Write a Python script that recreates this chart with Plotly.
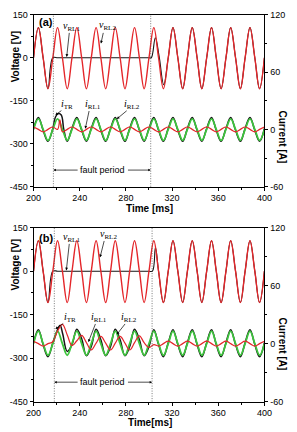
import plotly.graph_objects as go

# ---------------- data ----------------
# time grid [ms] (quarter-period samples of the 60 Hz waveform)
T = [200.0, 204.2, 208.3, 212.5, 216.7, 220.8, 225.0, 229.2,
     233.3, 237.5, 241.7, 245.8, 250.0, 254.2, 258.3, 262.5,
     266.7, 270.8, 275.0, 279.2, 283.3, 287.5, 291.7, 295.8,
     300.0, 304.2, 308.3, 312.5, 316.7, 320.8, 325.0, 329.2,
     333.3, 337.5, 341.7, 345.8, 350.0, 354.2, 358.3, 362.5,
     366.7, 370.8, 375.0, 379.2, 383.3, 387.5, 391.7, 395.8,
     400.0]

# v_RL2 (red) - same in both panels
V_RL2 = [0, 105, 0, -108, 0, 105, 0, -108,
         0, 105, 0, -108, 0, 105, 0, -108,
         0, 105, 0, -108, 0, 105, 0, -108,
         0, 105, 0, -108, 0, 105, 0, -108,
         0, 105, 0, -108, 0, 105, 0, -108,
         0, 105, 0, -108, 0, 105, 0, -108,
         0]

# v_RL1 (black), panel (a)
T_V1A = [200.0, 204.2, 208.3, 212.5, 216.7, 220.8, 225.0, 229.2,
         233.3, 237.5, 241.7, 245.8, 250.0, 254.2, 258.3, 262.5,
         266.7, 270.8, 275.0, 279.2, 283.3, 287.5, 291.7, 295.8,
         300.0, 302.0, 305.5, 308.8, 312.8, 316.7, 320.8, 325.0, 329.2,
         333.3, 337.5, 341.7, 345.8, 350.0, 354.2, 358.3, 362.5,
         366.7, 370.8, 375.0, 379.2, 383.3, 387.5, 391.7, 395.8,
         400.0]
V_RL1_A = [0, 105, 0, -108, 0, 0, 0, 0,
           0, 0, 0, 0, 0, 0, 0, 0,
           0, 0, 0, 0, 0, 0, 0, 0,
           0, 0, 70, 5, -94, 0, 105, 0, -108,
           0, 105, 0, -108, 0, 105, 0, -108,
           0, 105, 0, -108, 0, 105, 0, -108,
           0]

# v_RL1 (black), panel (b)
T_V1B = [200.0, 204.2, 208.3, 212.5, 216.7, 220.8, 225.0, 229.2,
         233.3, 237.5, 241.7, 245.8, 250.0, 254.2, 258.3, 262.5,
         266.7, 270.8, 275.0, 279.2, 283.3, 287.5, 291.7, 295.8,
         300.0, 303.0, 305.6, 308.3, 312.5, 316.7, 320.8, 325.0, 329.2,
         333.3, 337.5, 341.7, 345.8, 350.0, 354.2, 358.3, 362.5,
         366.7, 370.8, 375.0, 379.2, 383.3, 387.5, 391.7, 395.8,
         400.0]
V_RL1_B = [0, 105, 0, -108, 0, 0, 0, 0,
           0, 0, 0, 0, 0, 0, 0, 0,
           0, 0, 0, 0, 0, 0, 0, 0,
           0, 0, 82, 0, -108, 0, 105, 0, -108,
           0, 105, 0, -108, 0, 105, 0, -108,
           0, 105, 0, -108, 0, 105, 0, -108,
           0]

# ---- currents, panel (a) ----
I_RL1_A = [0, 11, 0, -11.5, 0, 11, 0, -11.5,
           0, 11, 0, -11.5, 0, 11, 0, -11.5,
           0, 11, 0, -11.5, 0, 11, 0, -11.5,
           0, 11, 0, -11.5, 0, 11, 0, -11.5,
           0, 11, 0, -11.5, 0, 11, 0, -11.5,
           0, 11, 0, -11.5, 0, 11, 0, -11.5,
           0]

T_TR_A = [200.0, 204.2, 208.3, 212.5, 216.7, 219.0, 221.5, 224.0, 226.2, 229.2,
          233.3, 237.5, 241.7, 245.8, 250.0, 254.2, 258.3, 262.5,
          266.7, 270.8, 275.0, 279.2, 283.3, 287.5, 291.7, 295.8,
          300.0, 304.2, 308.3, 312.5, 316.7, 320.8, 325.0, 329.2,
          333.3, 337.5, 341.7, 345.8, 350.0, 354.2, 358.3, 362.5,
          366.7, 370.8, 375.0, 379.2, 383.3, 387.5, 391.7, 395.8,
          400.0]
I_TR_A = [1, 12.5, -1, -12.5, 1, 13, 16.5, 15, 0, -12.5,
          1, 12.5, -1, -12.5, 1, 12.5, -1, -12.5,
          1, 12.5, -1, -12.5, 1, 12.5, -1, -12.5,
          1, 12.5, -1, -12.5, 1, 12.5, -1, -12.5,
          1, 12.5, -1, -12.5, 1, 12.5, -1, -12.5,
          1, 12.5, -1, -12.5, 1, 12.5, -1, -12.5,
          1]

T_RL2_A = [200.0, 204.2, 208.3, 212.5, 216.7, 220.8, 222.8, 225.0, 229.2,
           233.3, 237.5, 241.7, 245.8, 250.0, 254.2, 258.3, 262.5,
           266.7, 270.8, 275.0, 279.2, 283.3, 287.5, 291.7, 295.8,
           300.0, 304.2, 308.3, 312.5, 316.7, 320.8, 325.0, 329.2,
           333.3, 337.5, 341.7, 345.8, 350.0, 354.2, 358.3, 362.5,
           366.7, 370.8, 375.0, 379.2, 383.3, 387.5, 391.7, 395.8,
           400.0]
I_RL2_A = [2.5, 0, -2.5, 0, 2.5, 0, 10, -2.5, 0,
           2.5, 0, -2.5, 0, 2.5, 0, -2.5, 0,
           2.5, 0, -2.5, 0, 2.5, 0, -2.5, 0,
           2.5, 0, -2.5, 0, 2.5, 0, -2.5, 0,
           2.5, 0, -2.5, 0, 2.5, 0, -2.5, 0,
           2.5, 0, -2.5, 0, 2.5, 0, -2.5, 0,
           2.5]

# ---- currents, panel (b) ----
I_RL1_B = [0, 13, 0, -12, 0, 13, 0, -12,
           0, 13, 0, -12, 0, 13, 0, -12,
           0, 13, 0, -12, 0, 13, 0, -12,
           0, 13, 0, -12, 0, 13, 0, -12,
           0, 13, 0, -12, 0, 13, 0, -12,
           0, 13, 0, -12, 0, 13, 0, -12,
           0]

I_RL2_B = [2.5, 0, -2.5, 0, 2, 13, 20, 9,
           -2, 3, 8.5, 1, -6.5, 0.5, 7.5, 0.5,
           -6.5, 0.5, 7.5, 0.5, -6.5, 1, 8, 1,
           -4, -1, -2.5, 0, 2.5, 0, -2.5, 0,
           2.5, 0, -2.5, 0, 2.5, 0, -2.5, 0,
           2.5, 0, -2.5, 0, 2.5, 0, -2.5, 0,
           2.5]

T_TR_B = [200.0, 204.2, 208.3, 212.5, 216.7, 219.0, 221.0, 223.0, 225.3, 229.2,
          233.3, 237.5, 241.7, 245.8, 250.0, 254.2, 258.3, 262.5,
          266.7, 270.8, 275.0, 279.2, 283.3, 287.5, 291.7, 295.8,
          300.0, 304.2, 308.3, 312.5, 316.7, 320.8, 325.0, 329.2,
          333.3, 337.5, 341.7, 345.8, 350.0, 354.2, 358.3, 362.5,
          366.7, 370.8, 375.0, 379.2, 383.3, 387.5, 391.7, 395.8,
          400.0]
I_TR_B = [1, 14.5, -1, -13.5, 1, 9, 15, 19, 10, -8,
          -1, 15, 5, -12.5, -3, 15, 4, -12.5,
          -3, 15, 4, -12.5, -3, 15, 4, -12.5,
          -3, 14.5, -1, -13.5, 1, 14.5, -1, -13.5,
          1, 14.5, -1, -13.5, 1, 14.5, -1, -13.5,
          1, 14.5, -1, -13.5, 1, 14.5, -1, -13.5,
          1]

# axis ticks
V_TICKS = [-450, -300, -150, 0, 150]
V_LABELS = ['-450', '-300', '-150', '0', '150']
V_MINOR = [-375, -225, -75, 75]
I_TICKS = [-60, 0, 60, 120]
I_LABELS = ['-60', '0', '60', '120']
I_MINOR = [-30, 30, 90]
X_TICKS = [200, 240, 280, 320, 360, 400]
X_LABELS = ['200', '240', '280', '320', '360', '400']
X_MINOR = [220, 260, 300, 340, 380]

# ---------------- figure ----------------
W, H = 297, 432
RED = '#e4262a'
GREEN = '#3dc43d'
BLACK = '#151515'
SANS = 'Arial, Liberation Sans, sans-serif'
SERIF = 'Liberation Serif, Times New Roman, serif'

fig = go.Figure()


def add(x, y, color, xa, ya, w):
    fig.add_trace(go.Scatter(x=x, y=y, mode='lines', xaxis=xa, yaxis=ya,
                             line=dict(color=color, width=w, shape='spline', smoothing=1.1),
                             hoverinfo='skip', showlegend=False))


# panel (a)
add(T_V1A, V_RL1_A, BLACK, 'x', 'y', 1.1)
add(T, V_RL2, RED, 'x', 'y', 1.4)
add(T_TR_A, I_TR_A, BLACK, 'x', 'y2', 1.5)
add(T, I_RL1_A, GREEN, 'x', 'y2', 1.8)
add(T_RL2_A, I_RL2_A, RED, 'x', 'y2', 1.2)
# panel (b)
add(T_V1B, V_RL1_B, BLACK, 'x2', 'y3', 1.1)
add(T, V_RL2, RED, 'x2', 'y3', 1.4)
add(T_TR_B, I_TR_B, BLACK, 'x2', 'y4', 1.5)
add(T, I_RL1_B, GREEN, 'x2', 'y4', 1.8)
add(T, I_RL2_B, RED, 'x2', 'y4', 1.2)

xdom = [27 / W, 271 / W]
ydom_a = [1 - 186 / H, 1 - 10 / H]
ydom_b = [1 - 406 / H, 1 - 228 / H]

common = dict(showline=True, linecolor='black', linewidth=1, ticks='outside', ticklen=3,
              tickwidth=1, tickcolor='black', showgrid=False, zeroline=False,
              tickfont=dict(family=SANS, size=9, color='black'))


def xax(anchor):
    return dict(common, domain=xdom, anchor=anchor, range=[200, 400], mirror=True,
                tickmode='array', tickvals=X_TICKS, ticktext=X_LABELS,
                minor=dict(tickmode='array', tickvals=X_MINOR, ticks='outside', ticklen=2,
                           tickcolor='black'))


def vax(dom, anchor):
    return dict(common, domain=dom, anchor=anchor, range=[-450, 150],
                tickmode='array', tickvals=V_TICKS, ticktext=V_LABELS,
                minor=dict(tickmode='array', tickvals=V_MINOR, ticks='outside', ticklen=2,
                           tickcolor='black'))


def iax(over, anchor):
    return dict(common, overlaying=over, anchor=anchor, side='right', range=[-60, 120],
                tickmode='array', tickvals=I_TICKS, ticktext=I_LABELS,
                minor=dict(tickmode='array', tickvals=I_MINOR, ticks='outside', ticklen=2,
                           tickcolor='black'))


fig.update_layout(
    width=W, height=H, autosize=False,
    margin=dict(l=0, r=0, t=0, b=0),
    paper_bgcolor='white', plot_bgcolor='white',
    showlegend=False,
    xaxis=xax('y'), yaxis=vax(ydom_a, 'x'), yaxis2=iax('y', 'x'),
    xaxis2=xax('y3'), yaxis3=vax(ydom_b, 'x2'), yaxis4=iax('y3', 'x2'),
)

ann = []
shapes = []


def text(x, y, s, xr, yr, size=10, family=SERIF):
    ann.append(dict(x=x, y=y, xref=xr, yref=yr, text=s, showarrow=False,
                    xanchor='center', yanchor='middle',
                    font=dict(family=family, size=size, color='black')))


def arrow(x0, y0, x1, y1, xr, yr, size=0.8):
    ann.append(dict(x=x1, y=y1, ax=x0, ay=y0, xref=xr, yref=yr, axref=xr, ayref=yr,
                    text='', showarrow=True, arrowhead=2, arrowsize=size, arrowwidth=0.7,
                    arrowcolor='black'))


def vline(x, xr, yr):
    shapes.append(dict(type='line', x0=x, x1=x, y0=0, y1=1, xref=xr, yref=yr + ' domain',
                       line=dict(color='#555', width=0.8, dash='1px,1.5px')))


# panel (a) annotations
text(210.7, 126, '<b>(a)</b>', 'x', 'y', 11, SANS)
text(232.8, 109, '<i>v</i><sub>RL1</sub>', 'x', 'y')
arrow(231.1, 92, 228.7, 3, 'x', 'y')
text(263.9, 112.5, '<i>v</i><sub>RL2</sub>', 'x', 'y')
arrow(260.7, 92, 258.4, 50, 'x', 'y')
text(228.7, -163.7, '<i>i</i><sub>TR</sub>', 'x', 'y')
arrow(225.4, -180.7, 218.9, -200, 'x', 'y')
text(251.6, -163.7, '<i>i</i><sub>RL1</sub>', 'x', 'y')
arrow(248.4, -180.7, 244.8, -248, 'x', 'y')
text(285.2, -163.7, '<i>i</i><sub>RL2</sub>', 'x', 'y')
arrow(282.0, -180.7, 272.1, -213.8, 'x', 'y')
text(259.8, -392, 'fault period', 'x', 'y', 9, SANS)
arrow(239.5, -392, 217.2, -392, 'x', 'y', 0.7)
arrow(280.5, -392, 301.5, -392, 'x', 'y', 0.7)
vline(217.2, 'x', 'y')
vline(301.5, 'x', 'y')

# panel (b) annotations
text(210.7, 116, '<b>(b)</b>', 'x2', 'y3', 11, SANS)
text(232.8, 116, '<i>v</i><sub>RL1</sub>', 'x2', 'y3')
arrow(231.1, 99.4, 228.4, 2.7, 'x2', 'y3')
text(264.8, 126, '<i>v</i><sub>RL2</sub>', 'x2', 'y3')
arrow(261.5, 109.5, 257.6, 47.8, 'x2', 'y3')
text(232.0, -160, '<i>i</i><sub>TR</sub>', 'x2', 'y3')
arrow(227.0, -177, 218.9, -199.6, 'x2', 'y3')
text(256.6, -160, '<i>i</i><sub>RL1</sub>', 'x2', 'y3')
arrow(254.1, -177, 247.5, -244.4, 'x2', 'y3')
text(282.8, -160, '<i>i</i><sub>RL2</sub>', 'x2', 'y3')
arrow(280.3, -177, 272.1, -218.5, 'x2', 'y3')
text(259.8, -383, 'fault period', 'x2', 'y3', 9, SANS)
arrow(239.5, -383, 218.0, -383, 'x2', 'y3', 0.7)
arrow(280.5, -383, 302.7, -383, 'x2', 'y3', 0.7)
vline(218.0, 'x2', 'y3')
vline(302.7, 'x2', 'y3')


# axis titles
def title(xp, yp, s, angle):
    ann.append(dict(x=xp / W, y=1 - yp / H, xref='paper', yref='paper', text='<b>' + s + '</b>',
                    showarrow=False, textangle=angle, xanchor='center', yanchor='middle',
                    font=dict(family=SANS, size=10, color='black')))


title(8, 53, 'Voltage [V]', -90)
title(290, 135, 'Current [A]', 90)
title(150, 208, 'Time [ms]', 0)
title(8, 266, 'Voltage [V]', -90)
title(290, 347, 'Current [A]', 90)
title(150, 427, 'Time[ms]', 0)

fig.update_layout(annotations=ann, shapes=shapes)
fig.write_html('out.html')
